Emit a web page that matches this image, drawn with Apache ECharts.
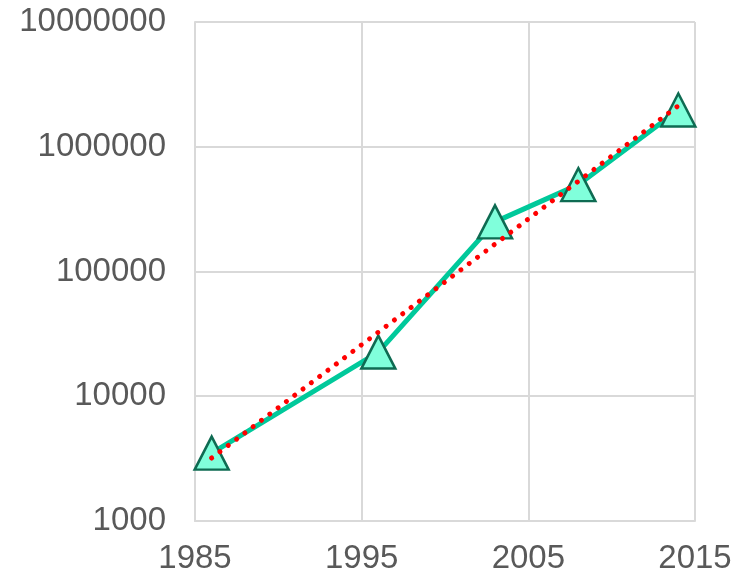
<!DOCTYPE html>
<html>
<head>
<meta charset="utf-8">
<script src="https://cdn.jsdelivr.net/npm/echarts@6/dist/echarts.min.js"></script>
<style>
  html, body { margin: 0; padding: 0; background: #ffffff; }
  #chart { width: 753px; height: 577px; }
</style>
</head>
<body>
<div id="chart"></div>
<script>
// Observed values (year, count)
const years = [1986, 1996, 2003, 2008, 2014];
const counts = [3500, 22600, 250000, 497000, 1970000];

// Exponential trend line, given by its two end points
const trendYears = [1986, 2014];
const trendCounts = [3200, 2130000];

// Axis ranges
const xMin = 1985, xMax = 2015, xStep = 10;
const yMin = 1000, yMax = 10000000;

const gridColor = '#d9d9d9';
const textColor = '#595959';
const font = '"Liberation Sans", Arial, sans-serif';

const chart = echarts.init(document.getElementById('chart'), null, { renderer: 'canvas' });

chart.setOption({
  animation: false,
  backgroundColor: '#ffffff',
  grid: { left: 195, right: 58, top: 22, bottom: 56, containLabel: false },
  xAxis: {
    type: 'value',
    min: xMin, max: xMax, interval: xStep,
    axisLine: { show: true, lineStyle: { color: gridColor, width: 2 } },
    axisTick: { show: false },
    splitLine: { show: true, lineStyle: { color: gridColor, width: 2 } },
    axisLabel: { color: textColor, fontSize: 33, fontFamily: font, margin: 21,
                 formatter: v => String(v) }
  },
  yAxis: {
    type: 'log',
    logBase: 10,
    min: yMin, max: yMax,
    axisLine: { show: true, lineStyle: { color: gridColor, width: 2 } },
    axisTick: { show: false },
    splitLine: { show: true, lineStyle: { color: gridColor, width: 2 } },
    axisLabel: { color: textColor, fontSize: 33, fontFamily: font, margin: 29,
                 formatter: v => String(Math.round(v)) }
  },
  series: [
    {
      type: 'line',
      data: years.map((y, i) => [y, counts[i]]),
      z: 2,
      lineStyle: { color: '#00c99b', width: 5 },
      symbol: 'triangle',
      symbolSize: [34, 33],
      itemStyle: { color: '#80ffdb', borderColor: '#0e6b52', borderWidth: 2.5 }
    },
    {
      type: 'line',
      data: trendYears.map((y, i) => [y, trendCounts[i]]),
      z: 5,
      showSymbol: false,
      symbol: 'none',
      lineStyle: { color: '#ff0000', width: 5, type: [0.01, 10.4], cap: 'round' }
    }
  ]
});
</script>
</body>
</html>
